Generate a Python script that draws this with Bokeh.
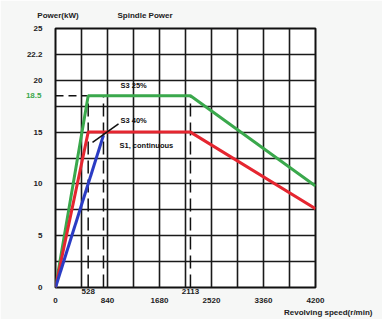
from bokeh.plotting import figure
from bokeh.models import Range1d, FixedTicker, LinearAxis, Title
from bokeh.core.properties import value
from bokeh.embed import file_html
from bokeh.resources import INLINE

# ---- data ----
green_x = [0, 528, 2180, 4200]      # S3 25%
green_y = [0, 18.5, 18.5, 9.8]
red_x = [0, 528, 2180, 4200]        # S1 continuous
red_y = [0, 15, 15, 7.6]
blue_x = [0, 775]                   # S3 40%
blue_y = [0, 14.7]
dash_v_x = [528, 775, 2180]
dash_v_top = 18.5
dash_h_y = 18.5
leader_x = [598, 1018]
leader_y = [14.0, 15.8]

x_ticks_row1 = [528, 2180]
x_labels_row1 = {528: "528", 2180: "2113"}
x_ticks_row2 = [0, 840, 1680, 2520, 3360, 4200]
y_ticks = [0, 5, 10, 15, 20, 22.5, 25]
y_labels = {22.5: "22.2"}
y_special = [18.5]
grid_x = [i * 420 for i in range(11)]
grid_y = [i * 2.5 for i in range(11)]

head_ticks = [40, 1446]
head_labels = {40: "Power(kW)", 1446: "Spindle Power"}
x_title = "Revolving speed(r/min)"

curve_labels = ["S3 25%", "S3 40%", "S1, continuous"]
curve_label_x = [1050, 1050, 1034]
curve_label_y = [19.5, 16.1, 13.7]

FONT = "Liberation Sans"
GREEN = "#3aa84c"
RED = "#e52630"
BLUE = "#2b3cc4"
INK = "#222222"

p = figure(width=382, height=319, output_backend="svg", toolbar_location=None,
           x_range=Range1d(0, 4200), y_range=Range1d(0, 25),
           min_border_left=55, min_border_right=67, min_border_top=28, min_border_bottom=32)
p.border_fill_color = "#f6f7f6"
p.background_fill_color = "#ffffff"
p.outline_line_color = "#111111"
p.outline_line_width = 2

# grids
p.xgrid.ticker = FixedTicker(ticks=grid_x)
p.ygrid.ticker = FixedTicker(ticks=grid_y)
for g in (p.xgrid, p.ygrid):
    g.grid_line_color = "#1a1a1a"
    g.grid_line_width = 1.6
    g.grid_line_alpha = 1.0

def style_axis(ax, color=INK):
    ax.axis_line_color = None
    ax.major_tick_line_color = None
    ax.minor_tick_line_color = None
    ax.major_tick_out = 0
    ax.major_tick_in = 0
    ax.major_label_text_font = FONT
    ax.major_label_text_font_size = "8px"
    ax.major_label_text_font_style = "bold"
    ax.major_label_text_color = color

# y axis
p.yaxis.ticker = FixedTicker(ticks=y_ticks)
p.yaxis.major_label_overrides = y_labels
style_axis(p.yaxis[0])
p.yaxis.major_label_standoff = 13

# special green 18.5 label
ay2 = LinearAxis(ticker=FixedTicker(ticks=y_special))
style_axis(ay2, GREEN)
ay2.major_label_standoff = -18
p.add_layout(ay2, "left")

# x axis row 1
p.xaxis.ticker = FixedTicker(ticks=x_ticks_row1)
p.xaxis.major_label_overrides = x_labels_row1
style_axis(p.xaxis[0])
p.xaxis.major_label_standoff = 1

# x axis row 2
ax2 = LinearAxis(ticker=FixedTicker(ticks=x_ticks_row2))
style_axis(ax2)
ax2.major_label_standoff = 1
p.add_layout(ax2, "below")

# header texts (as an axis above)
ah = LinearAxis(ticker=FixedTicker(ticks=head_ticks), major_label_overrides=head_labels)
style_axis(ah)
ah.major_label_standoff = 9
p.add_layout(ah, "above")

# x title
t = Title(text=x_title, align="right", offset=-57, standoff=0,
          text_font=FONT, text_font_size="8px", text_font_style="bold", text_color=INK)
p.add_layout(t, "below")

# dashed guide lines
for xv in dash_v_x:
    p.line([xv, xv], [0, dash_v_top], line_color="#111111", line_width=1.5, line_dash="13 6")
p.line([0, 528], [dash_h_y, dash_h_y], line_color="#111111", line_width=1.5, line_dash="8 5")

# curves
p.line(green_x, green_y, line_color=GREEN, line_width=3)
p.line(red_x, red_y, line_color=RED, line_width=3)
p.line(blue_x, blue_y, line_color=BLUE, line_width=3)

# leader line
p.line(leader_x, leader_y, line_color="#111111", line_width=1.5)

# curve labels
p.text(x=curve_label_x, y=curve_label_y, text=curve_labels,
       text_font=value(FONT), text_font_size="7.5px", text_font_style="bold",
       text_color="#111111", text_baseline="middle", text_align="left")

open("out.html", "w").write(file_html(p, INLINE))
